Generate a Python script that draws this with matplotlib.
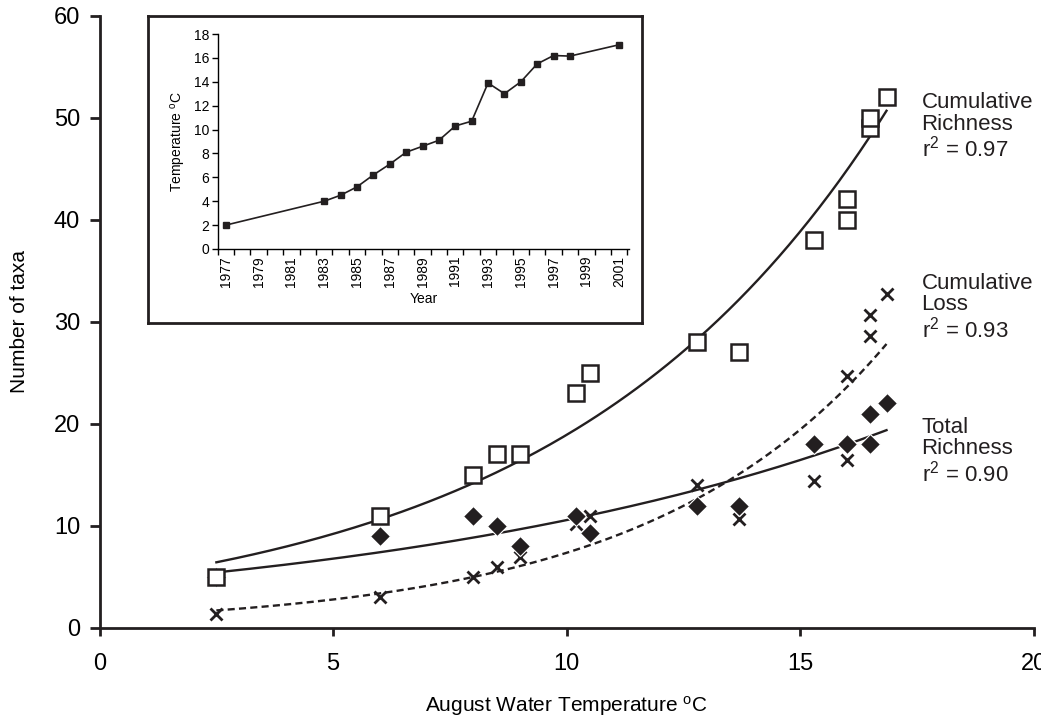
import numpy as np
import matplotlib
matplotlib.use("Agg")
import matplotlib.pyplot as plt

plt.rcParams["font.family"] = ["Liberation Sans", "DejaVu Sans"]
plt.rcParams["mathtext.default"] = "regular"

# main panel: August water temperature vs number of taxa
temp = [2.5, 6.0, 8.0, 8.5, 9.0, 10.2, 10.5, 12.8, 13.7, 15.3, 16.0, 16.0, 16.5, 16.5, 16.85]
cum_rich = [5, 11, 15, 17, 17, 23, 25, 28, 27, 38, 40, 42, 49, 50, 52]
tot_rich = [5, 9, 11, 10, 8, 11, 9.3, 12, 12, 18, 18, 18, 18, 21, 22]
cum_loss = [1.4, 3.0, 5.0, 6.0, 7.0, 10.2, 11.0, 14.0, 10.7, 14.4, 16.5, 24.7, 28.6, 30.7, 32.7]

# inset: temperature by year
years = [1977, 1983, 1984, 1985, 1986, 1987, 1988, 1989, 1990, 1991, 1992,
         1993, 1994, 1995, 1996, 1997, 1998, 2001]
year_temp = [2.0, 4.0, 4.5, 5.2, 6.2, 7.1, 8.1, 8.6, 9.1, 10.3, 10.7,
             13.9, 13.0, 14.0, 15.5, 16.2, 16.15, 17.1]


def expfit(x, y):
    # excel-style exponential trendline: least squares on log(y)
    b, lna = np.polyfit(x, np.log(y), 1)
    xs = np.linspace(min(x), max(x), 200)
    return xs, np.exp(lna) * np.exp(b * xs)


fig = plt.figure(figsize=(10.41, 7.19), dpi=100)
ax = fig.add_axes([0.0957, 0.1266, 0.8972, 0.8516])

xs, ys = expfit(temp, cum_rich)
ax.plot(xs, ys, "-", color="#231f20", lw=1.7, zorder=2)
xs, ys = expfit(temp, tot_rich)
ax.plot(xs, ys, "-", color="#231f20", lw=1.7, zorder=2)
xs, ys = expfit(temp, cum_loss)
ax.plot(xs, ys, color="#231f20", lw=1.7, ls=(0, (3, 1.8)), zorder=2)

ax.plot(temp, cum_loss, "x", ms=9, mew=2.0, color="#231f20", zorder=3)
ax.plot(temp, tot_rich, "D", ms=10.5, mfc="#231f20", mec="white", mew=0.8, zorder=4)
ax.plot(temp, cum_rich, "s", ms=12, mfc="white", mec="#231f20", mew=1.8, zorder=5)

ax.set_xlim(0, 20)
ax.set_ylim(0, 60)
ax.set_xticks([0, 5, 10, 15, 20])
ax.set_yticks(range(0, 61, 10))
for s in ["top", "right"]:
    ax.spines[s].set_visible(False)
for s in ["left", "bottom"]:
    ax.spines[s].set_linewidth(2.0)
    ax.spines[s].set_color("#231f20")
ax.tick_params(axis="both", direction="out", width=2.0, color="#231f20", labelsize=17)
ax.tick_params(axis="y", length=7, pad=7)
ax.tick_params(axis="x", length=6, pad=12)
ax.set_xlabel("August Water Temperature $^{o}$C", fontsize=15, labelpad=14)
ax.set_ylabel("Number of taxa", fontsize=15, labelpad=18)

lab = dict(fontsize=16, ha="left", va="center", linespacing=1.05, clip_on=False, color="#231f20")
ax.text(17.6, 49.1, "Cumulative\nRichness\nr$^2$ = 0.97", **lab)
ax.text(17.6, 31.4, "Cumulative\nLoss\nr$^2$ = 0.93", **lab)
ax.text(17.6, 17.3, "Total\nRichness\nr$^2$ = 0.90", **lab)

# inset frame
frame = fig.add_axes([0.1425, 0.5504, 0.4745, 0.4274])
frame.set_xticks([]); frame.set_yticks([])
frame.set_facecolor("white")
for s in frame.spines.values():
    s.set_linewidth(2.0)
    s.set_color("#231f20")

ins = fig.add_axes([0.2091, 0.6537, 0.3951, 0.2990])
ins.patch.set_alpha(0)
ins.plot(years, year_temp, "-s", color="#231f20", lw=1.2, ms=4.5)
ins.set_xlim(1976.5, 2001.6)
ins.set_ylim(0, 18)
ins.set_yticks(range(0, 19, 2))
ins.set_xticks(range(1977, 2002, 2))
ins.set_xticks(np.arange(1976.5, 2002, 1), minor=True)
ins.tick_params(axis="x", which="major", length=0, labelrotation=90, labelsize=10, pad=5)
ins.tick_params(axis="x", which="minor", length=4, width=1, direction="out")
ins.tick_params(axis="y", length=4, width=1, direction="out", labelsize=10, pad=2)
for s in ["top", "right"]:
    ins.spines[s].set_visible(False)
for s in ["left", "bottom"]:
    ins.spines[s].set_linewidth(1.0)
ins.set_xlabel("Year", fontsize=10, labelpad=4)
ins.set_ylabel("Temperature $^{o}$C", fontsize=10, labelpad=4)

fig.savefig("out.png", dpi=100)
